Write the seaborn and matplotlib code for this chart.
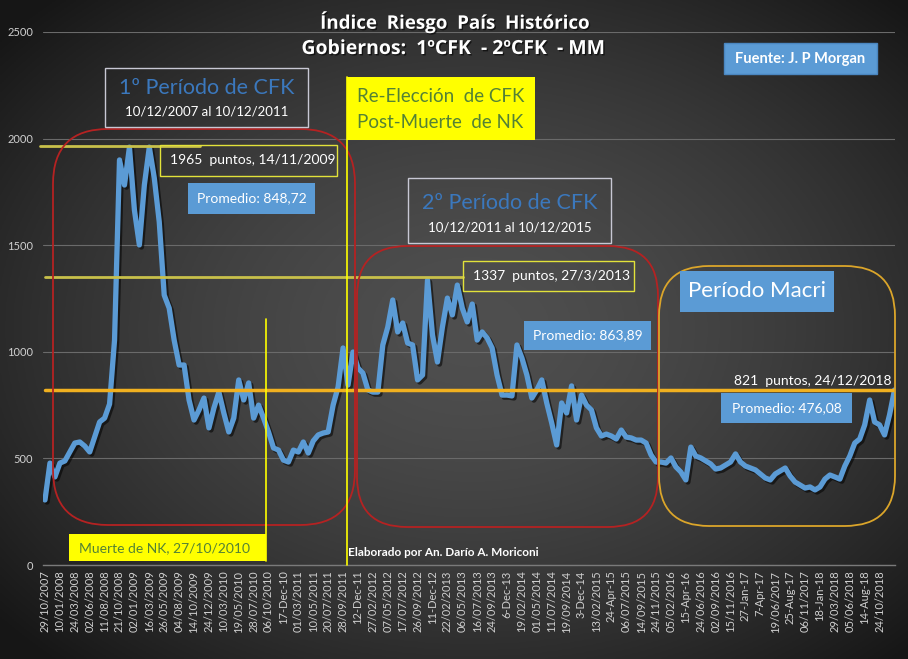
import numpy as np
import pandas as pd
import matplotlib
matplotlib.use('Agg')
import matplotlib.pyplot as plt
import matplotlib.patheffects as pe
from matplotlib.patches import FancyBboxPatch, Rectangle
import seaborn as sns

# ---------------- data ----------------
tick_labels = ["29/10/2007", "10/01/2008", "24/03/2008", "02/06/2008", "11/08/2008", "21/10/2008",
               "02/01/2009", "16/03/2009", "26/05/2009", "04/08/2009", "14/10/2009", "24/12/2009",
               "10/03/2010", "19/05/2010", "28/07/2010", "06/10/2010", "17-Dec-10", "01/03/2011",
               "10/05/2011", "20/07/2011", "28/09/2011", "12-Dec-11", "27/02/2012", "07/05/2012",
               "17/07/2012", "26/09/2012", "11-Dec-12", "22/02/2013", "06/05/2013", "16/07/2013",
               "24/09/2013", "6-Dec-13", "19/02/2014", "01/05/2014", "11/07/2014", "19/09/2014",
               "3-Dec-14", "13/02/2015", "24-Apr-15", "06/07/2015", "14/09/2015", "24/11/2015",
               "05/02/2016", "15-Apr-16", "24/06/2016", "02/09/2016", "15/11/2016", "27-Jan-17",
               "7-Apr-17", "19/06/2017", "25-Aug-17", "06/11/2017", "18-Jan-18", "29/03/2018",
               "05/06/2018", "14-Aug-18", "24/10/2018"]
samples_per_tick = 3

riesgo = [305, 478, 413, 478, 488, 530, 572, 577, 558, 530,
          600, 671, 689, 755, 1055, 1900, 1782, 1960, 1665, 1501,
          1782, 1960, 1815, 1609, 1266, 1205, 1055, 938, 938, 774,
          680, 727, 783, 643, 736, 811, 713, 624, 689, 868,
          774, 854, 689, 750, 689, 624, 549, 539, 492, 483,
          539, 530, 577, 525, 582, 610, 619, 624, 750, 835,
          1018, 844, 999, 924, 900, 821, 811, 811, 1032, 1116,
          1243, 1093, 1135, 1041, 1032, 868, 891, 1337, 1079, 952,
          1116, 1252, 1173, 1313, 1205, 1140, 1224, 1055, 1093, 1065,
          1018, 891, 797, 797, 793, 1032, 971, 891, 783, 821,
          868, 760, 666, 563, 760, 713, 840, 680, 797, 750,
          727, 643, 605, 614, 605, 591, 633, 600, 596, 586,
          586, 572, 516, 483, 483, 478, 502, 460, 436, 399,
          553, 511, 502, 488, 474, 450, 455, 469, 483, 521,
          483, 464, 455, 446, 427, 408, 399, 427, 441, 455,
          417, 389, 375, 361, 366, 352, 366, 403, 422, 413,
          403, 464, 511, 572, 591, 657, 774, 671, 657, 610,
          704, 821]

max1_value = 1965
max2_value = 1350
last_value = 821

# ---------------- style ----------------
sns.set_theme(style='dark')
plt.rcParams['font.family'] = ['Lato', 'DejaVu Sans']

W, H = 908, 659
fig = plt.figure(figsize=(W / 100, H / 100), dpi=100)

# background radial gradient
bg = fig.add_axes([0, 0, 1, 1], zorder=-10)
yy, xx = np.mgrid[0:1:330j, 0:1:454j]
r = np.sqrt(((xx - 0.52) / 0.62) ** 2 + ((yy - 0.5) / 0.62) ** 2)
v = np.clip(0.31 - 0.19 * np.clip(r, 0, 1.2) ** 1.6, 0.09, 1)
img = np.dstack([v, v, v])
bg.imshow(img, extent=[0, 1, 0, 1], aspect='auto', origin='lower')
bg.axis('off')

# main axes
ax = fig.add_axes([43 / W, 1 - 565 / H, (895 - 43) / W, (565 - 32) / H], zorder=1)
ax.patch.set_alpha(0)
df = pd.DataFrame({'idx': np.arange(len(riesgo)), 'riesgo': riesgo})
sns.lineplot(data=df, x='idx', y='riesgo', ax=ax, color='#5b9bd5', linewidth=3.8,
             path_effects=[pe.SimpleLineShadow(offset=(1.5, -1.5), shadow_color='black', alpha=0.55),
                           pe.Normal()])
ax.set_xlim(-0.4, 171.1)
ax.set_ylim(0, 2500)
ax.set_yticks(np.arange(0, 2501, 500))
ax.set_yticklabels([str(t) for t in range(0, 2501, 500)], color='#d0d0d0', fontsize=8)
ticks = np.arange(len(tick_labels)) * samples_per_tick
ax.set_xticks(ticks)
ax.set_xticklabels(tick_labels, rotation=90, color='#d0d0d0', fontsize=8, va='top', ha='center')
ax.set_xlabel('')
ax.set_ylabel('')
ax.yaxis.grid(True, color='#6a6a6a', linewidth=0.8)
ax.xaxis.grid(False)
for s in ['top', 'right', 'left']:
    ax.spines[s].set_visible(False)
ax.spines['bottom'].set_color('#7a7a7a')
ax.spines['bottom'].set_linewidth(1.0)
ax.tick_params(axis='y', length=0, pad=7)
ax.tick_params(axis='x', length=0, pad=4)

# reference lines tied to values
def fx(px):
    return (px - 43) / (895 - 43)

ax.axhline(max1_value, xmin=fx(40), xmax=fx(200), color='#c8c04a', lw=2, clip_on=False, zorder=3)
ax.axhline(max2_value, xmin=fx(45), xmax=fx(463), color='#c8c04a', lw=2, zorder=3)
ax.axhline(last_value, xmin=fx(45), xmax=fx(895), color='#f0b020', lw=2.5, zorder=3)

# ---------------- overlay annotations (pixel space) ----------------
ov = fig.add_axes([0, 0, 1, 1], zorder=5)
ov.set_xlim(0, W)
ov.set_ylim(H, 0)
ov.axis('off')
ov.patch.set_alpha(0)

def box(x0, y0, x1, y1, fc='none', ec='none', lw=1.0):
    ov.add_patch(Rectangle((x0, y0), x1 - x0, y1 - y0, facecolor=fc, edgecolor=ec, lw=lw))

def rbox(x0, y0, x1, y1, ec, rad=50, lw=1.3):
    ov.add_patch(FancyBboxPatch((x0, y0), x1 - x0, y1 - y0,
                                boxstyle=f'round,pad=0,rounding_size={rad}',
                                facecolor='none', edgecolor=ec, lw=lw))

shadow = [pe.withSimplePatchShadow(offset=(1, -1), shadow_rgbFace='black', alpha=0.6)]

# title
ov.text(455, 22, 'Índice  Riesgo  País  Histórico', ha='center', va='center', fontsize=13.5,
        fontweight='bold', color='white', family=['Open Sans', 'DejaVu Sans'], path_effects=shadow)
ov.text(454, 49, 'Gobiernos:  1ºCFK  - 2ºCFK  - MM', ha='center', va='center', fontsize=14,
        fontweight='bold', color='white', family=['Open Sans', 'DejaVu Sans'], path_effects=shadow)

# fuente
box(724, 43, 877, 74, fc='#5b9bd5', ec='#4a86c0')
ov.text(800, 58.5, 'Fuente: J. P Morgan', ha='center', va='center', fontsize=10.5,
        fontweight='bold', color='white')

# rounded period frames
rbox(53, 129, 355, 525, '#b52222', rad=55)
rbox(357, 246, 658, 527, '#b52222', rad=50)
rbox(659, 266, 895, 526, '#dba52a', rad=50)

# vertical lines
ov.plot([347, 347], [77, 565], color='#ffff00', lw=1.2)
ov.plot([266, 266], [319, 561], color='#ffff00', lw=1.2)

# 1º período
box(105, 68, 308, 127, ec='#c8c8d4')
ov.text(206.5, 88, '1º Período de CFK', ha='center', va='center', fontsize=15.5, color='#3b78bd')
ov.text(206.5, 112, '10/12/2007 al 10/12/2011', ha='center', va='center', fontsize=9.5, color='white')

# re-elección
box(347, 77, 535, 140, fc='#ffff00')
ov.text(357, 96, 'Re-Elección  de CFK', ha='left', va='center', fontsize=13.5, color='#548235')
ov.text(357, 122, 'Post-Muerte  de NK', ha='left', va='center', fontsize=13.5, color='#548235')

# 1965 puntos
box(160, 145, 337, 176, ec='#e2e23a')
ov.text(170, 160, '1965  puntos, 14/11/2009', ha='left', va='center', fontsize=10, color='white')

# promedio 1
box(188, 183, 315, 214, fc='#5b9bd5')
ov.text(251.5, 198.5, 'Promedio: 848,72', ha='center', va='center', fontsize=10, color='white')

# 2º período
box(408, 178, 611, 243, ec='#c8c8d4')
ov.text(509.5, 203, '2º Período de CFK', ha='center', va='center', fontsize=15.5, color='#3b78bd')
ov.text(509.5, 228, '10/12/2011 al 10/12/2015', ha='center', va='center', fontsize=9.5, color='white')

# 1337 puntos
box(463, 261, 634, 291, ec='#e2e23a')
ov.text(473, 276, '1337  puntos, 27/3/2013', ha='left', va='center', fontsize=10, color='white')

# promedio 2
box(524, 321, 651, 350, fc='#5b9bd5')
ov.text(587.5, 335.5, 'Promedio: 863,89', ha='center', va='center', fontsize=10, color='white')

# Macri
box(680, 271, 834, 312, fc='#5b9bd5')
ov.text(757, 291, 'Período Macri', ha='center', va='center', fontsize=16, color='white')

box(721, 393, 852, 423, fc='#5b9bd5')
ov.text(786.5, 408, 'Promedio: 476,08', ha='center', va='center', fontsize=10, color='white')

ov.text(891, 381, '821  puntos, 24/12/2018', ha='right', va='center', fontsize=10, color='white')

# muerte de NK
box(69, 534, 266, 561, fc='#ffff00')
ov.text(79, 548, 'Muerte de NK, 27/10/2010', ha='left', va='center', fontsize=10, color='#548235')

ov.text(348, 553, 'Elaborado por An. Darío A. Moriconi', ha='left', va='center', fontsize=8.5,
        fontweight='bold', color='white')

fig.savefig('out.png', dpi=100)
